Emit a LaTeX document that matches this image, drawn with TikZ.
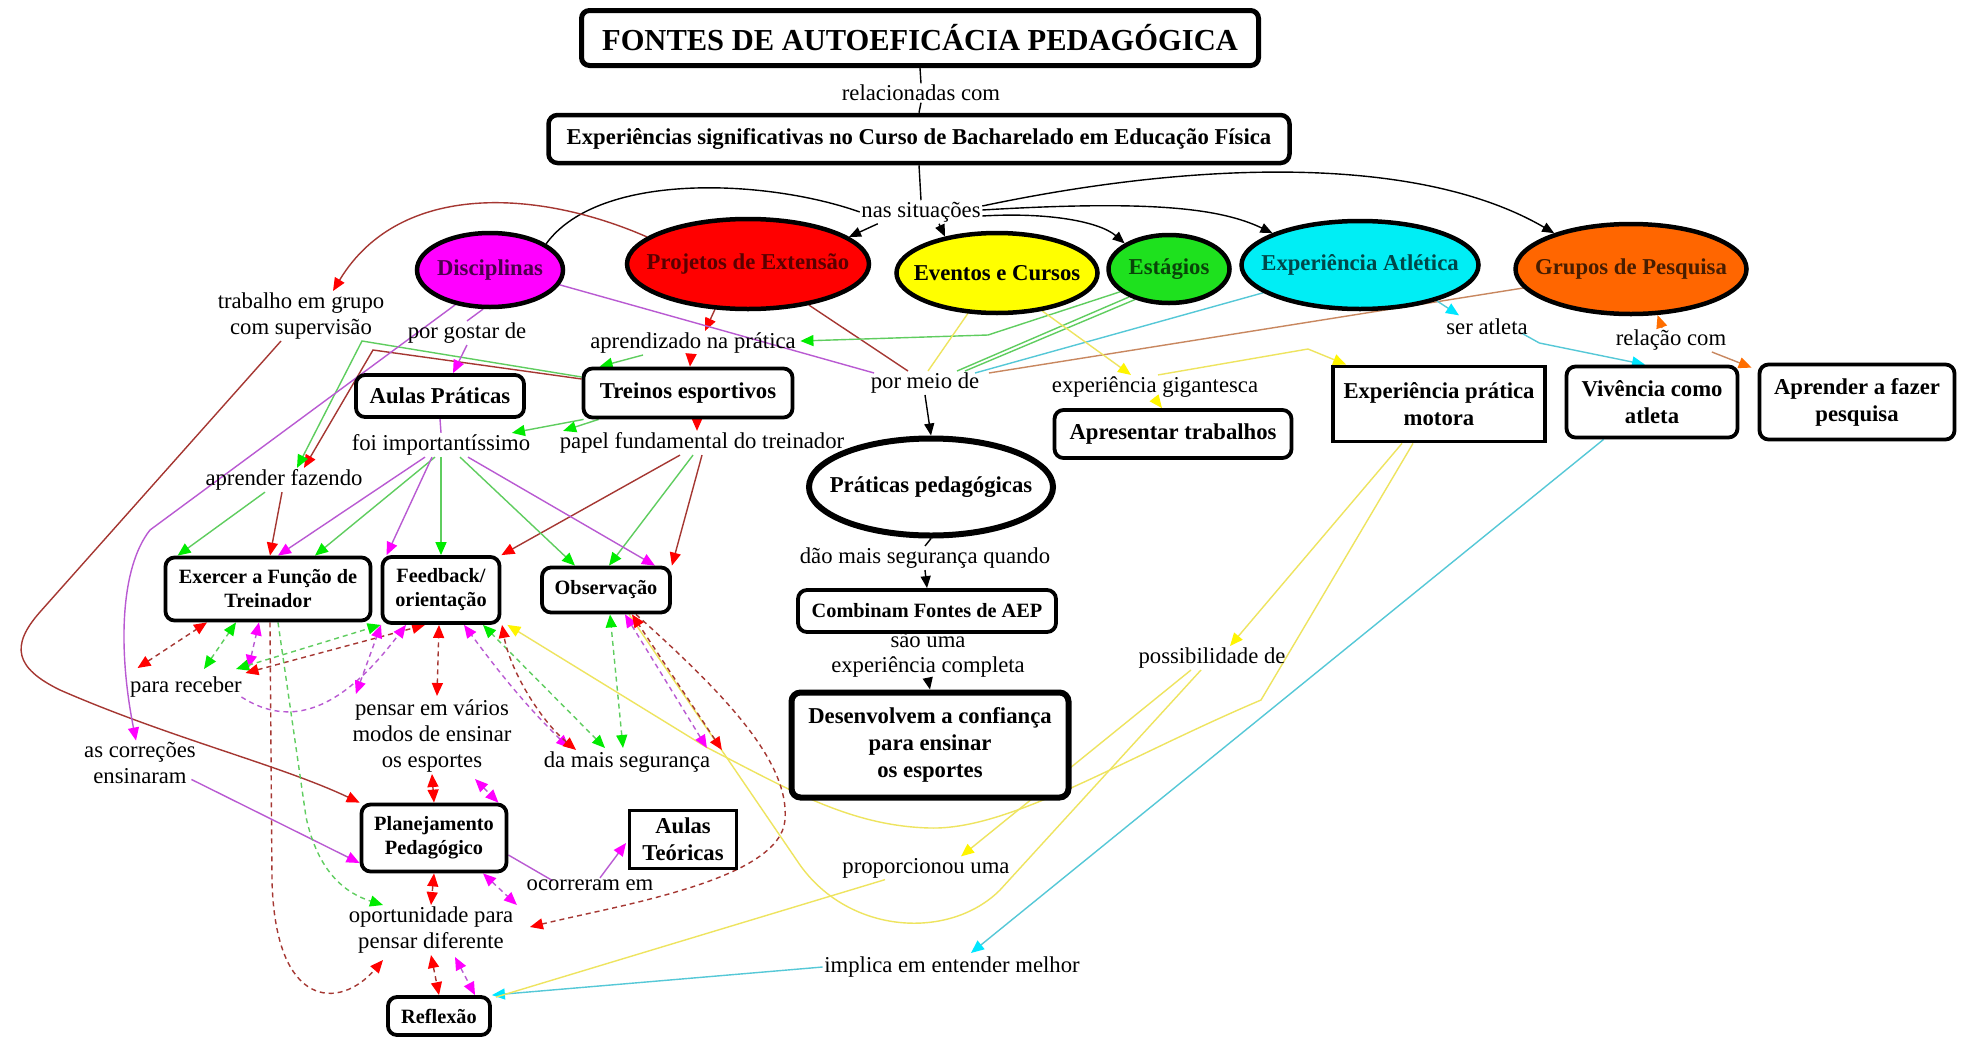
\documentclass[tikz,border=0pt]{standalone}
\usepackage{fontspec}
\setmainfont{Liberation Serif}
\usetikzlibrary{shapes.geometric,arrows.meta,calc,backgrounds}

% fills of the situation ellipses
\definecolor{fMag}{RGB}{255,0,255}
\definecolor{fRed}{RGB}{255,0,0}
\definecolor{fYel}{RGB}{255,255,0}
\definecolor{fGrn}{RGB}{30,225,30}
\definecolor{fCya}{RGB}{0,238,245}
\definecolor{fOrg}{RGB}{255,102,0}
% link lines
\definecolor{lRed}{RGB}{165,55,50}
\definecolor{lGrn}{RGB}{95,205,95}
\definecolor{lMag}{RGB}{185,90,210}
\definecolor{lYel}{RGB}{238,228,95}
\definecolor{lCya}{RGB}{85,200,215}
\definecolor{lOrg}{RGB}{200,135,95}
% arrow heads
\definecolor{tRed}{RGB}{255,0,0}
\definecolor{tGrn}{RGB}{0,235,0}
\definecolor{tMag}{RGB}{255,0,255}
\definecolor{tYel}{RGB}{255,245,0}
\definecolor{tCya}{RGB}{0,230,255}
\definecolor{tOrg}{RGB}{255,110,0}

\newcommand\lblfont{\fontsize{22.7}{26}\selectfont}
\newcommand\bigbold{\fontsize{22.7}{27}\selectfont\bfseries}
\newcommand\smallbold{\fontsize{20.3}{24}\selectfont\bfseries}
\newcommand\titlefont{\fontsize{30.5}{34}\selectfont\bfseries}

\tikzset{
  lbl/.style={font=\lblfont, align=center, inner sep=1.5pt},
  rbox/.style={draw, rounded corners=9pt, line width=3.8pt, fill=white, align=center, inner sep=2pt, font=\bigbold},
  sbox/.style={draw, line width=3.8pt, fill=white, align=center, inner sep=2pt, font=\bigbold},
  oval/.style={ellipse, draw, line width=4.5pt, font=\bigbold, inner xsep=-40pt, inner ysep=-12pt},
  lnk/.style={line width=1.4pt},
  dsh/.style={line width=1.4pt, dash pattern=on 5pt off 4pt},
  pK/.style={lnk, draw=black},
  aK/.style={lnk, draw=black, -{Triangle[length=12pt,width=10pt,color=black]}},
  pR/.style={lnk, draw=lRed},
  aR/.style={lnk, draw=lRed, -{Triangle[length=13pt,width=11pt,color=tRed]}},
  dR/.style={dsh, draw=lRed, {Triangle[length=13pt,width=11pt,color=tRed]}-{Triangle[length=13pt,width=11pt,color=tRed]}},
  dRe/.style={dsh, draw=lRed, -{Triangle[length=13pt,width=11pt,color=tRed]}},
  pG/.style={lnk, draw=lGrn},
  aG/.style={lnk, draw=lGrn, -{Triangle[length=13pt,width=11pt,color=tGrn]}},
  dG/.style={dsh, draw=lGrn, {Triangle[length=13pt,width=11pt,color=tGrn]}-{Triangle[length=13pt,width=11pt,color=tGrn]}},
  dGe/.style={dsh, draw=lGrn, -{Triangle[length=13pt,width=11pt,color=tGrn]}},
  pM/.style={lnk, draw=lMag},
  aM/.style={lnk, draw=lMag, -{Triangle[length=13pt,width=11pt,color=tMag]}},
  dM/.style={dsh, draw=lMag, {Triangle[length=13pt,width=11pt,color=tMag]}-{Triangle[length=13pt,width=11pt,color=tMag]}},
  dMe/.style={dsh, draw=lMag, -{Triangle[length=13pt,width=11pt,color=tMag]}},
  pY/.style={lnk, draw=lYel},
  aY/.style={lnk, draw=lYel, -{Triangle[length=13pt,width=11pt,color=tYel]}},
  pC/.style={lnk, draw=lCya},
  aC/.style={lnk, draw=lCya, -{Triangle[length=13pt,width=11pt,color=tCya]}},
  pO/.style={lnk, draw=lOrg},
  aO/.style={lnk, draw=lOrg, -{Triangle[length=13pt,width=11pt,color=tOrg]}},
}

\begin{document}
\begin{tikzpicture}[x=1pt,y=-1pt]
\useasboundingbox (0,0) rectangle (1964,1036);

% ---------- concepts and linking phrases ----------
\node[rbox, line width=5pt, rounded corners=8pt, minimum width=677pt, minimum height=55pt, font=\titlefont] (title) at (920,38) {FONTES DE AUTOEFICÁCIA PEDAGÓGICA};
\node[lbl] (rel) at (921,93) {relacionadas com};
\node[rbox, line width=4.5pt, minimum width=741pt, minimum height=48pt] (exp) at (919,139) {Experiências significativas no Curso de Bacharelado em Educação Física};
\node[lbl] (nas) at (921,212) {nas situações};

\node[oval, fill=fMag, text=black!70!fMag, minimum width=146pt, minimum height=74pt] (disc) at (490,270) {Disciplinas};
\node[oval, fill=fRed, text=black!65!fRed, minimum width=242pt, minimum height=90pt] (proj) at (748,264) {Projetos de Extensão};
\node[oval, fill=fYel, text=black, minimum width=201pt, minimum height=80pt] (even) at (997,273) {Eventos e Cursos};
\node[oval, fill=fGrn, text=black!70!fGrn, minimum width=121pt, minimum height=68pt] (estag) at (1169,269) {Estágios};
\node[oval, fill=fCya, text=black!70!fCya, minimum width=237pt, minimum height=88pt] (atl) at (1360,265) {Experiência Atlética};
\node[oval, fill=fOrg, text=black!72!fOrg, minimum width=231pt, minimum height=90pt] (grup) at (1631,269) {Grupos de Pesquisa};

\node[lbl] (trab) at (301,316) {trabalho em grupo\\com supervisão};
\node[lbl] (gostar) at (467,333) {por gostar de};
\node[lbl] (aprend) at (693,343) {aprendizado na prática};
\node[rbox, minimum width=168pt, minimum height=42pt] (aulasP) at (440,396) {Aulas Práticas};
\node[rbox, minimum width=209pt, minimum height=49pt] (treinos) at (688,393) {Treinos esportivos};
\node[lbl] (meio) at (925,383) {por meio de};
\node[lbl] (gig) at (1155,387) {experiência gigantesca};
\node[rbox, minimum width=237pt, minimum height=48pt] (apres) at (1173,434) {Apresentar trabalhos};
\node[sbox, minimum width=212pt, minimum height=75pt] (expm) at (1439,404) {Experiência prática\\motora};
\node[rbox, minimum width=171pt, minimum height=71pt] (viv) at (1652,402) {Vivência como\\atleta};
\node[rbox, minimum width=195pt, minimum height=75pt] (aprpesq) at (1857,402) {Aprender a fazer\\pesquisa};
\node[lbl] (seratl) at (1487,327) {ser atleta};
\node[lbl] (relcom) at (1671,340) {relação com};

\node[lbl] (foi) at (441,445) {foi importantíssimo};
\node[lbl] (papel) at (702,443) {papel fundamental do treinador};
\node[oval, fill=white, line width=6pt, minimum width=244pt, minimum height=97pt] (prat) at (931,487) {Práticas pedagógicas};
\node[lbl] (aprfaz) at (284,480) {aprender fazendo};
\node[lbl] (dao) at (925,558) {dão mais segurança quando};

\node[rbox, font=\smallbold, minimum width=205pt, minimum height=63pt] (exer) at (268,589) {Exercer a Função de\\Treinador};
\node[rbox, font=\smallbold, minimum width=117pt, minimum height=66pt] (feed) at (441,590) {Feedback/\\orientação};
\node[rbox, font=\smallbold, minimum width=128pt, minimum height=45pt] (obs) at (606,590) {Observação};
\node[rbox, font=\smallbold, minimum width=258pt, minimum height=42pt] (comb) at (927,611) {Combinam Fontes de AEP};
\node[lbl, font=\fontsize{22.7}{25}\selectfont] (saouma) at (928,655) {são uma\\experiência completa};
\node[rbox, line width=6pt, minimum width=277pt, minimum height=105pt] (desenv) at (930,745) {Desenvolvem a confiança\\para ensinar\\os esportes};
\node[lbl] (poss) at (1212,658) {possibilidade de};

\node[lbl] (receber) at (186,687) {para receber};
\node[lbl] (pensar) at (432,736) {pensar em vários\\modos de ensinar\\os esportes};
\node[lbl] (damais) at (627,762) {da mais segurança};
\node[lbl] (correc) at (140,763) {as correções\\ensinaram};
\node[rbox, font=\smallbold, minimum width=145pt, minimum height=67pt] (plan) at (434,838) {Planejamento\\Pedagógico};
\node[sbox, line width=3pt, minimum width=107pt, minimum height=58pt] (aulasT) at (683,839) {Aulas\\Teóricas};
\node[lbl] (ocorr) at (590,885) {ocorreram em};
\node[lbl] (oport) at (431,930) {oportunidade para\\pensar diferente};
\node[lbl] (propor) at (926,868) {proporcionou uma};
\node[lbl] (implica) at (952,967) {implica em entender melhor};
\node[rbox, font=\smallbold, minimum width=102pt, minimum height=38pt] (reflex) at (439,1016) {Reflexão};

% ---------- links ----------
\begin{pgfonlayer}{background}
\fill[white] (0,0) rectangle (1964,1036);

% main trunk (black)
\draw[pK] (title.south) -- (rel.north);
\draw[pK] (rel.south) -- (exp.north);
\draw[pK] (exp.south) -- (nas.north);
\draw[pK] (nas.west) .. controls (770,180) and (600,170) .. (disc.25);
\draw[aK] ($(nas.south west)+(18,0)$) -- (proj.15);
\draw[aK] ($(nas.south)+(18,0)$) -- (even.145);
\draw[aK] ($(nas.east)+(0,4)$) .. controls (1050,212) and (1100,222) .. (estag.150);
\draw[aK] ($(nas.east)+(0,-2)$) .. controls (1150,200) and (1220,208) .. (atl.160);
\draw[aK] ($(nas.east)+(0,-6)$) .. controls (1200,160) and (1420,155) .. (grup.155);
\draw[aK] (meio.south) -- (prat.north);
\draw[pK] (prat.south) -- (dao.north);
\draw[aK] (dao.south) -- (comb.north);
\draw[pK] (comb.south) -- (saouma.north);
\draw[aK] (saouma.south) -- (desenv.north);

% Projetos de Extensao (red)
\draw[aR] (proj.165) .. controls (540,190) and (400,180) .. ($(trab.north)+(32,0)$);
\draw[aR] ($(trab.south)+(-20,0)$) -- (40,612) .. controls (10,646) and (15,668) .. (60,690) .. controls (170,738) and (280,765) .. (plan.north west);
\draw[aR] ($(proj.south)+(-33,-2)$) -- ($(aprend.north)+(12,0)$);
\draw[aR] ($(aprend.south)+(-2,0)$) -- ($(treinos.north)+(2,0)$);
\draw[aR] ($(treinos.south)+(9,0)$) -- ($(papel.north)+(-5,0)$);
\draw[aR] ($(papel.south)+(-22,0)$) -- (feed.north east);
\draw[aR] (papel.south) -- (obs.north east);
\draw[aR] ($(treinos.west)+(0,-14)$) -- (373,350) -- ($(aprfaz.north)+(20,0)$);
\draw[aR] ($(aprfaz.south)+(-2,0)$) -- ($(exer.north)+(2,0)$);
\draw[pR] (proj.326) -- ($(meio.north)+(-17,0)$);

% Estagios (green)
\draw[aG] (estag.205) -- (988,335) -- ($(aprend.east)+(3,-2)$);
\draw[pG] (estag.215) -- ($(meio.north)+(32,0)$);
\draw[pG] (estag.222) -- ($(meio.north)+(40,0)$);
\draw[aG] ($(aprend.south)+(-50,0)$) -- ($(treinos.north west)+(18,0)$);
\draw[aG] ($(treinos.south west)+(2,0)$) -- ($(foi.north east)+(-20,0)$);
\draw[aG] ($(treinos.south west)+(17,0)$) -- ($(papel.north west)+(5,0)$);
\draw[aG] ($(treinos.west)+(0,-16)$) -- (362,341) -- ($(aprfaz.north)+(13,0)$);
\draw[aG] ($(aprfaz.south)+(-19,0)$) -- ($(exer.north west)+(14,0)$);
\draw[aG] ($(foi.south)+(-6,0)$) -- ($(exer.north)+(47,0)$);
\draw[aG] (foi.south) -- (feed.north);
\draw[aG] ($(foi.south)+(19,0)$) -- ($(obs.north)+(-31,0)$);
\draw[aG] ($(papel.south)+(-9,0)$) -- ($(obs.north)+(3,0)$);

% Disciplinas (magenta)
\draw[pM] (disc.260) -- (gostar.north);
\draw[aM] (gostar.south) -- ($(aulasP.north)+(13,0)$);
\draw[pM] (aulasP.south) -- (foi.north);
\draw[aM] (disc.225) -- (150,530) .. controls (120,568) and (118,650) .. ($(correc.north)+(-4,0)$);
\draw[pM] (disc.348) -- ($(meio.north west)+(5,2)$);
\draw[aM] ($(foi.south)+(-16,0)$) -- ($(exer.north)+(10,0)$);
\draw[aM] ($(foi.south)+(-9,0)$) -- ($(feed.north west)+(6,0)$);
\draw[aM] ($(foi.south)+(27,0)$) -- ($(obs.north east)+(-17,0)$);
\draw[aM] ($(correc.south east)+(-6,-6)$) -- ($(plan.west)+(0,25)$);
\draw[pM] ($(plan.east)+(0,17)$) -- ($(ocorr.north west)+(28,3)$);
\draw[aM] ($(ocorr.north)+(10,0)$) -- ($(aulasT.west)+(-2,4)$);

% Grupos de Pesquisa (orange)
\draw[pO] (grup.190) -- ($(meio.east)+(8,-10)$);
\draw[aO] ($(relcom.north)+(-9,0)$) -- (grup.300);
\draw[aO] ($(relcom.south east)+(-16,0)$) -- ($(aprpesq.north west)+(-6,5)$);

% Experiencia Atletica (cyan)
\draw[pC] (atl.196) -- ($(meio.north)+(50,2)$);
\draw[aC] (atl.335) -- ($(seratl.north)+(-28,-2)$);
\draw[aC] ($(seratl.east)+(-8,6)$) -- ($(seratl.east)+(10,16)$) -- ($(viv.north)+(-7,0)$);
\draw[aC] ($(viv.south west)+(39,0)$) -- ($(implica.north)+(19,-2)$);
\draw[aC] (implica.west) -- (reflex.north east);

% Eventos e Cursos (yellow)
\draw[pY] ($(even.south)+(-29,-2)$) -- ($(meio.north)+(3,0)$);
\draw[aY] (even.320) -- ($(gig.north)+(-24,0)$);
\draw[aY] (gig.south) -- ($(apres.north)+(-11,0)$);
\draw[aY] ($(gig.north)+(3,0)$) -- (1308,349) -- ($(expm.north west)+(15,0)$);
\draw[aY] ($(expm.south)+(-37,0)$) -- ($(poss.north)+(18,0)$);
\draw[aY] ($(expm.south)+(-26,0)$) -- (1261,700) .. controls (1120,760) and (1010,830) .. (930,828) .. controls (850,826) and (790,790) .. (706,747) -- ($(feed.south east)+(6,0)$);
\draw[aY] ($(poss.south)+(-21,0)$) -- ($(propor.north)+(35,0)$);
\draw[pY] ($(poss.south)+(-11,0)$) -- (1000,890) .. controls (950,940) and (850,935) .. (800,865) -- ($(obs.south)+(23,0)$);
\draw[pY] ($(propor.south)+(-41,0)$) -- ($(reflex.north east)+(4,2)$);

% cross links (dashed)
\draw[dR] ($(receber.north west)+(9,-7)$) -- ($(exer.south)+(-61,0)$);
\draw[dG] ($(receber.north)+(18,-6)$) -- ($(exer.south)+(-32,0)$);
\draw[dM] ($(receber.north east)+(5,-7)$) -- ($(exer.south)+(-9,0)$);
\draw[dG] ($(receber.north)+(50,-6)$) -- (feed.south west);
\draw[dR] ($(receber.north east)+(2,-2)$) -- ($(feed.south)+(-16,0)$);
\draw[dMe] ($(receber.east)+(-2,10)$) .. controls (290,728) and (340,712) .. ($(feed.south)+(-35,0)$);
\draw[dM] ($(pensar.north west)+(5,-4)$) -- ($(feed.south)+(-60,0)$);
\draw[dR] ($(pensar.north)+(5,-2)$) -- ($(feed.south)+(-2,0)$);
\draw[dM] ($(damais.north west)+(27,-2)$) .. controls (520,700) and (490,660) .. ($(feed.south)+(23,0)$);
\draw[dG] ($(damais.north)+(-22,-2)$) -- ($(feed.south)+(42,0)$);
\draw[dR] ($(damais.north west)+(34,0)$) .. controls (540,720) and (510,670) .. ($(feed.south)+(61,0)$);
\draw[dG] ($(damais.north)+(-4,-2)$) -- ($(obs.south)+(4,0)$);
\draw[dM] ($(damais.north east)+(-5,-2)$) -- ($(obs.south)+(19,0)$);
\draw[dR] ($(damais.north east)+(10,0)$) -- ($(obs.south)+(26,0)$);
\draw[dRe] ($(obs.south)+(30,0)$) .. controls (720,690) and (790,760) .. (785,820) .. controls (780,880) and (620,905) .. ($(oport.east)+(15,-3)$);
\draw[dRe] ($(exer.south)+(2,0)$) -- (272,880) .. controls (275,1010) and (340,1010) .. ($(oport.south)+(-48,5)$);
\draw[dGe] ($(exer.south)+(10,0)$) -- (306,817) .. controls (318,872) and (345,893) .. ($(oport.north)+(-48,0)$);
\draw[dR] (pensar.south) -- (plan.north);
\draw[dM] ($(pensar.south)+(43,5)$) -- ($(plan.north east)+(-10,0)$);
\draw[dR] (plan.south) -- (oport.north);
\draw[dM] ($(plan.south)+(49,0)$) -- ($(oport.north east)+(2,0)$);
\draw[dR] (oport.south) -- (reflex.north);
\draw[dM] ($(oport.south)+(24,2)$) -- ($(reflex.north)+(36,0)$);
\end{pgfonlayer}
\end{tikzpicture}
\end{document}
